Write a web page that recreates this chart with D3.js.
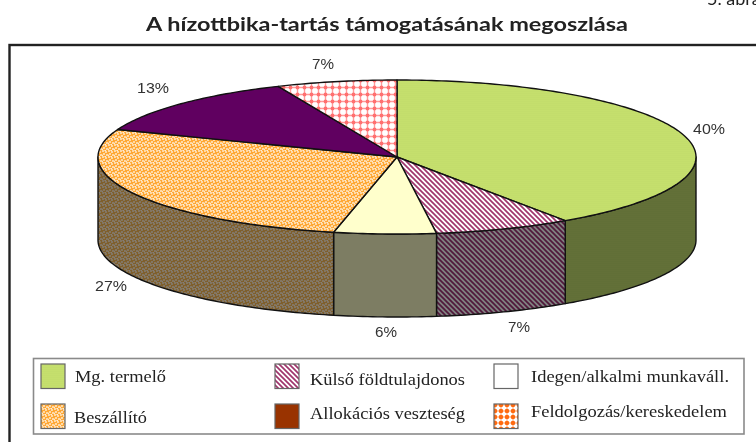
<!DOCTYPE html>
<html><head><meta charset="utf-8">
<script src="https://cdn.jsdelivr.net/npm/d3@7/dist/d3.min.js"></script>
<style>html,body{margin:0;padding:0;background:#fff}svg{display:block}</style>
</head><body><div id="chart"></div>
<script>
const categories = ["Mg. termelő","Külső földtulajdonos","Idegen/alkalmi munkaváll.","Beszállító","Allokációs veszteség","Feldolgozás/kereskedelem"];
const sliceValues = [40.49,7.4,5.51,27.4,12.7,6.5];
const sliceKinds = ["green","stripe","cream","beige","purple","check"];
const legendKinds = ["green","stripe","white","beige","rust","orangeCheck"];
const titleText = "A hízottbika-tartás támogatásának megoszlása";
const cornerText = "5. ábra";

const W=756,H=442,cx=397,cy=157,rx=299,ry=77,depth=83;
const svg=d3.select("#chart").append("svg").attr("width",W).attr("height",H);
const defs=svg.append("defs");

function pat(id,size,bg,draw,sizeY){
  const p=defs.append("pattern").attr("id",id).attr("patternUnits","userSpaceOnUse").attr("width",size).attr("height",sizeY||size);
  p.append("rect").attr("width",size).attr("height",sizeY||size).attr("fill",bg);
  draw(p);
}
const dots=(fg,r)=>p=>{p.append("circle").attr("cx",1).attr("cy",1).attr("r",r).attr("fill",fg);};
const speckle=fg=>p=>{[[1,1],[4,2],[2,4],[5,5],[0,5.5],[3.2,0.2]].forEach(c=>p.append("circle").attr("cx",c[0]).attr("cy",c[1]).attr("r",.95).attr("fill",fg));};
const stripes=(fg,w)=>p=>{p.append("path").attr("d","M-1,4L1,6M0,0L5,5M4,-1L6,1").attr("stroke",fg).attr("stroke-width",w);};
const grid=(fg,line,r)=>p=>{
  p.append("path").attr("d","M3.5,0V7M0,3.5H7").attr("stroke",line).attr("stroke-width",1.4);
  p.append("circle").attr("cx",3.5).attr("cy",3.5).attr("r",r).attr("fill",fg);
};

pat("p-green",2,"#cbe472",dots("#aecb58",.55));
pat("p-green-s",2,"#66743a",dots("#525f2c",.55));
pat("p-stripe",5,"#ffffff",stripes("#a0356c",1.7));
pat("p-stripe-s",5,"#808080",stripes("#50183a",1.7));
pat("p-beige",6,"#ffa733",speckle("#fff0d8"));
pat("p-beige-s",6,"#7f5f2c",speckle("#85807a"));
pat("p-check",7,"#ffffff",grid("#ff7070","#ff9a9a",1.9));
pat("p-check-s",7,"#808080",grid("#803838","#804c4c",1.9));
pat("p-lg-orange",6,"#ffffff",p=>{
  p.append("path").attr("d","M3,0V6M0,3H6").attr("stroke","#ffb080").attr("stroke-width",1);
  p.append("circle").attr("cx",3).attr("cy",3).attr("r",2.3).attr("fill","#ff6a10");
});

const fills={green:"url(#p-green)",stripe:"url(#p-stripe)",cream:"#ffffcc",beige:"url(#p-beige)",purple:"#600060",check:"url(#p-check)",white:"#ffffff",rust:"#993300",orangeCheck:"url(#p-lg-orange)"};
const sideFills={green:"url(#p-green-s)",stripe:"url(#p-stripe-s)",cream:"#7d7d63",beige:"url(#p-beige-s)",purple:"#300030",check:"url(#p-check-s)"};

const root=svg.append("g").style("filter","blur(0.45px)");

// page furniture
root.append("text").attr("x",707).attr("y",5).attr("font-family","Lato").attr("font-size",18).attr("fill","#222").text(cornerText);
root.append("text").attr("x",146).attr("y",31).attr("textLength",482).attr("lengthAdjust","spacingAndGlyphs").attr("font-family","Lato").attr("font-weight",700).attr("font-size",19.5).attr("fill","#222").text(titleText);
root.append("rect").attr("x",9.5).attr("y",45).attr("width",760).attr("height",420).attr("fill","#fff").attr("stroke","#222").attr("stroke-width",2.4);

// 3D pie
const x=d3.scaleLinear().domain([-1,1]).range([cx-rx,cx+rx]);
const y=d3.scaleLinear().domain([-1,1]).range([cy-ry,cy+ry]);
const pie=d3.pie().sort(null).startAngle(0).endAngle(2*Math.PI)(sliceValues);
const px=a=>x(Math.sin(a)),py=a=>y(-Math.cos(a));
const line=d3.line().x(d=>d[0]).y(d=>d[1]);
const samples=(a,b)=>{const n=Math.max(2,Math.ceil((b-a)*60));return d3.range(n+1).map(i=>a+(b-a)*i/n);};

const gSide=root.append("g"),gTop=root.append("g");
pie.forEach((d,i)=>{
  const k=sliceKinds[i];
  const a0=Math.max(d.startAngle,Math.PI/2),a1=Math.min(d.endAngle,3*Math.PI/2);
  if(a1>a0){
    const t=samples(a0,a1);
    const pts=t.map(a=>[px(a),py(a)]).concat(t.slice().reverse().map(a=>[px(a),py(a)+depth]));
    gSide.append("path").attr("d",line(pts)+"Z").attr("fill",sideFills[k]).attr("stroke","#111").attr("stroke-width",1.4).attr("stroke-linejoin","round");
  }
});
pie.forEach((d,i)=>{
  const k=sliceKinds[i];
  const pts=[[x(0),y(0)]].concat(samples(d.startAngle,d.endAngle).map(a=>[px(a),py(a)]));
  gTop.append("path").attr("d",line(pts)+"Z").attr("fill",fills[k]).attr("stroke","#111").attr("stroke-width",1.4).attr("stroke-linejoin","round");
});

// value labels
const fmt=d3.format(".0f");
const labelAt=[[709,134],[519,332],[386,337],[111,291],[153,93],[323,69]];
const gLab=root.append("g");
pie.forEach((d,i)=>{
  const s=fmt(d.value)+"%";
  gLab.append("text").attr("x",labelAt[i][0]-(s.length===3?16:11)).attr("y",labelAt[i][1]).attr("textLength",s.length===3?32:22).attr("lengthAdjust","spacingAndGlyphs").attr("font-family","Liberation Sans").attr("font-size",14).attr("fill","#333").text(s);
});

// legend
root.append("rect").attr("x",33.5).attr("y",358.5).attr("width",710.5).attr("height",75.5).attr("fill","#fff").attr("stroke","#8a8a8a").attr("stroke-width",1.6);
const swX=[41,275,494],swY=[364,404],swW=24,swH=24.5;
const txX=[[75,74],[310,310],[531,531]],txY=[[382,423],[385,419],[382,417]];
const txW=[[91,73],[155,155],[198,196]];
categories.forEach((c,i)=>{
  const col=i%3,row=Math.floor(i/3);
  root.append("rect").attr("x",swX[col]).attr("y",swY[row]).attr("width",swW).attr("height",swH).attr("fill",fills[legendKinds[i]]).attr("stroke","#666").attr("stroke-width",1.2);
  root.append("text").attr("x",txX[col][row]).attr("y",txY[col][row]).attr("textLength",txW[col][row]).attr("lengthAdjust","spacingAndGlyphs").attr("font-family","Liberation Serif").attr("font-size",17.5).attr("fill","#222").text(c);
});
</script></body></html>
